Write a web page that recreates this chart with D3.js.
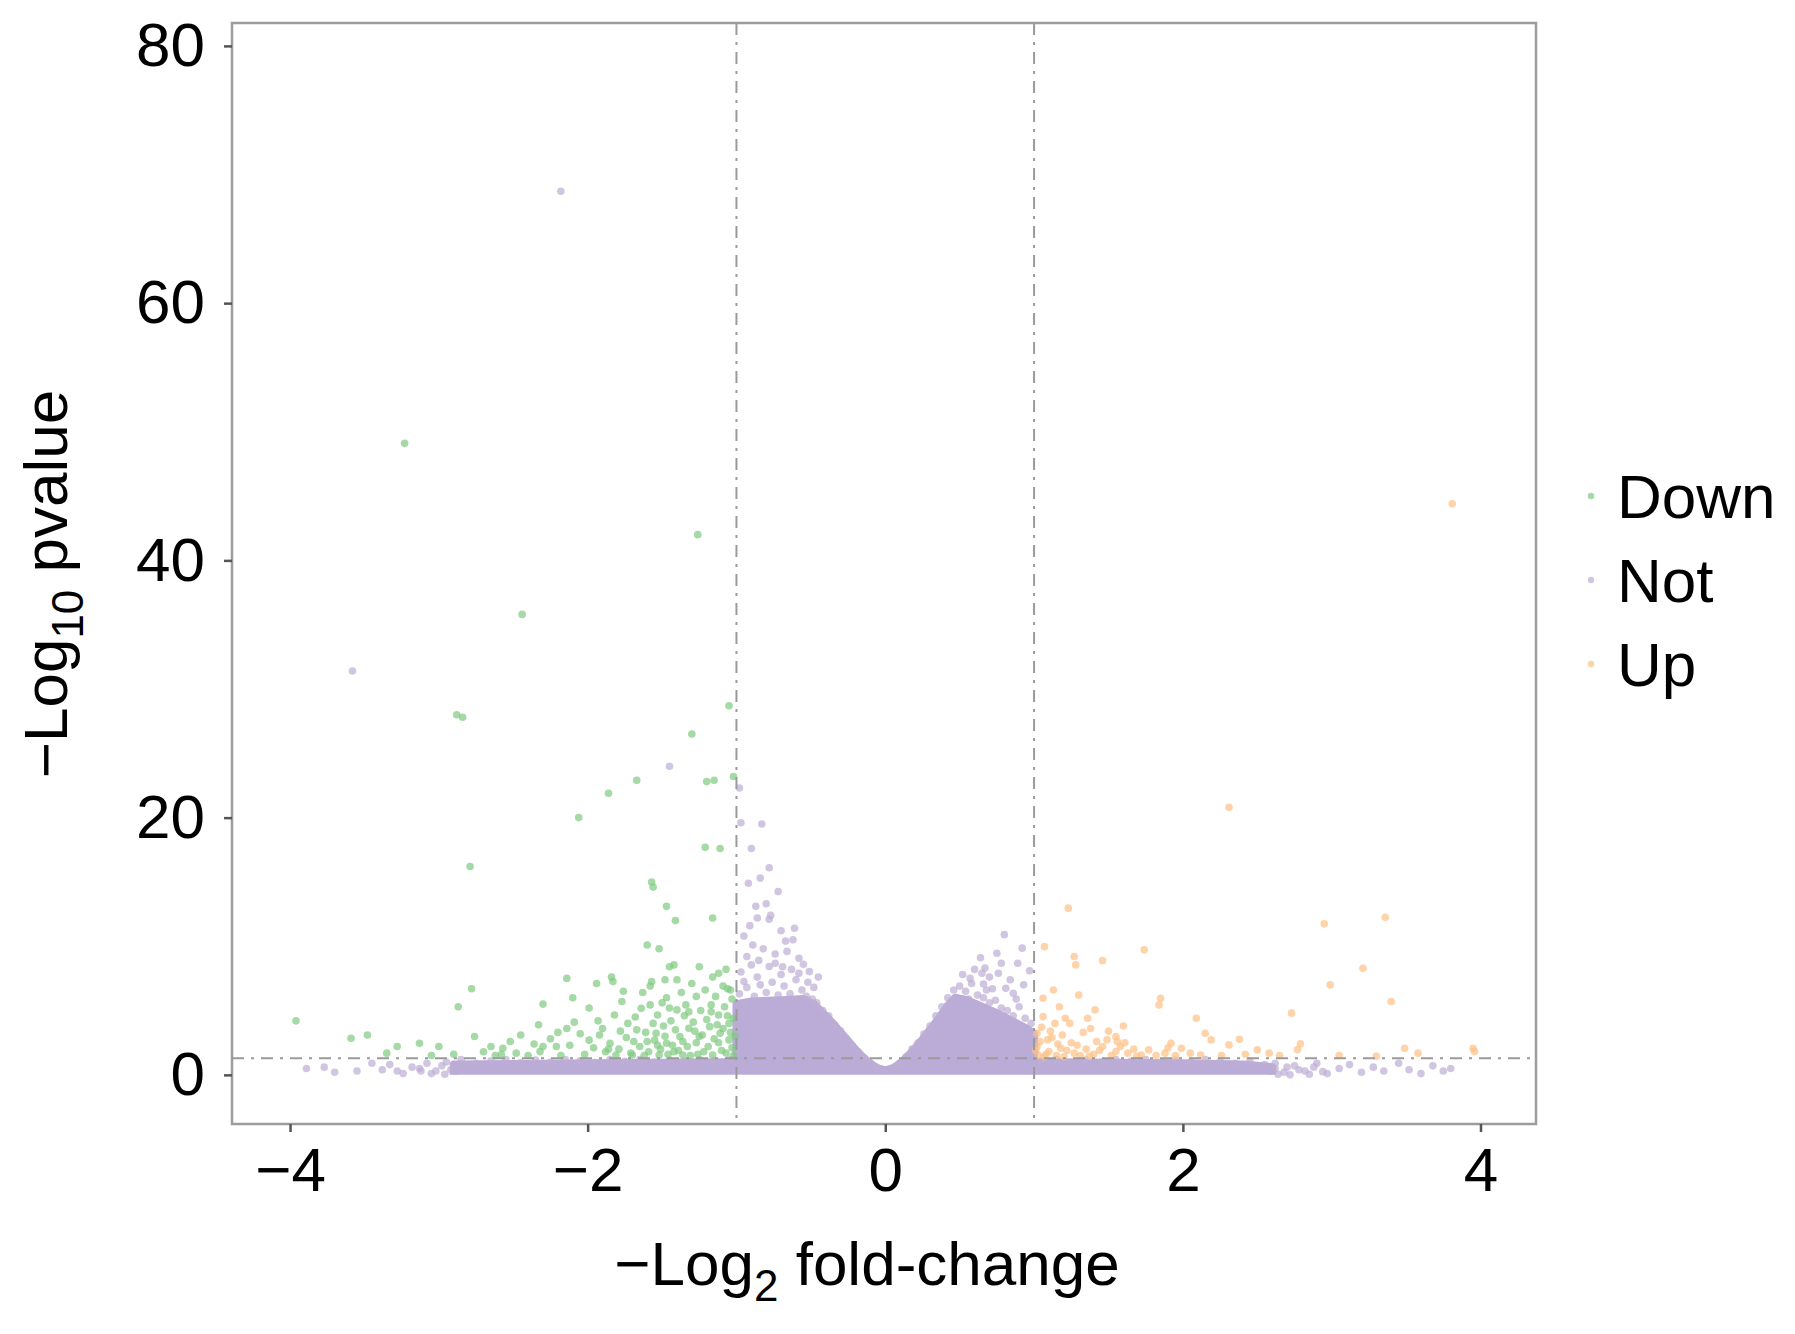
<!DOCTYPE html>
<html>
<head>
<meta charset="utf-8">
<script src="https://cdn.jsdelivr.net/npm/d3@7"></script>
<style>
  body { margin: 0; background: #fff; }
  svg { font-family: "Liberation Sans", Arial, sans-serif; }
</style>
</head>
<body>
<div id="chart"></div>
<script>
// ---- data ----
const groups = ["Down", "Not", "Up"]
const groupColors = ["#7FC97F", "#BEAED4", "#FDC086"]
const xTicks = [-4, -2, 0, 2, 4]
const yTicks = [0, 20, 40, 60, 80]
const fcCut = [-1, 1]
const pCut = 1.3

// down regulated (green)
const downPts = [
  [-3.23,49.1],[-1.26,42.0],[-2.44,35.8],[-2.88,28.0],[-2.84,27.8],[-1.05,28.7],[-1.30,26.5],[-1.67,22.9],
  [-1.20,22.8],[-1.15,22.9],[-1.02,23.2],[-1.86,21.9],[-2.06,20.0],[-1.21,17.7],[-1.11,17.6],[-2.79,16.2],
  [-1.57,15.0],[-1.56,14.6],[-1.47,13.1],[-1.41,12.0],[-1.16,12.2],[-1.60,10.1],[-1.52,9.8],[-2.78,6.7],
  [-2.87,5.3],[-3.59,2.85],[-3.48,3.1],[-3.96,4.2],
  [-2.14,7.5],[-1.94,7.1],[-1.84,7.6],[-1.83,7.25],[-2.10,6.0],[-2.30,5.5],[-2.33,3.9],[-1.99,5.2],
  [-1.77,5.7],[-1.57,7.25],[-1.48,7.4],[-1.40,7.4],[-1.45,8.4],[-1.42,8.55],[-1.25,8.4],[-1.16,7.6],
  [-1.07,8.2],[-1.09,6.9],[-1.06,6.7],[-1.30,7.1],[-1.21,6.6],[-1.47,6.0],[-1.34,5.44],[-1.58,5.44],
  [-1.64,5.18],[-1.53,4.66],[-1.40,5.05],[-1.17,5.44],[-1.12,4.66],[-1.82,4.66],[-1.73,4.0],[-1.67,3.5],
  [-2.14,3.6],[-2.09,4.1],[-1.99,2.7],[-1.92,3.1],[-1.85,2.46],[-1.60,2.59],[-1.54,3.24],[-1.47,2.46],
  [-1.38,2.98],[-1.32,3.63],[-1.25,2.98],[-1.18,3.75],[-1.11,3.24],[-1.05,4.0],[-1.05,2.72],[-1.16,1.55],
  [-1.36,1.55],[-1.52,1.55],[-1.70,1.55],[-1.81,1.55],[-2.76,2.98],[-2.65,2.2],[-2.57,2.07],[-2.48,1.69],
  [-2.32,1.81],[-2.21,2.2],[-2.30,2.2],[-3.28,2.2],[-3.13,2.46],[-3.00,2.2],[-3.35,1.69],
  [-1.02,1.5],[-1.03,2.1],[-1.04,3.3],[-1.06,4.6],[-1.08,5.3],[-1.03,5.9],[-1.10,1.9],[-1.12,2.5],
  [-1.13,3.9],[-1.14,6.1],[-1.19,2.2],[-1.20,4.3],[-1.22,1.8],[-1.24,5.0],[-1.27,2.5],[-1.28,3.4],
  [-1.29,4.1],[-1.31,1.5],[-1.33,2.2],[-1.35,4.6],[-1.37,6.4],[-1.39,1.9],[-1.41,3.5],[-1.43,2.3],
  [-1.44,4.2],[-1.46,1.6],[-1.49,3.8],[-1.50,5.6],[-1.51,2.0],[-1.55,2.7],[-1.56,4.0],[-1.59,1.8],
  [-1.61,3.3],[-1.63,6.4],[-1.65,2.2],[-1.68,4.5],[-1.71,1.7],[-1.74,2.9],[-1.76,6.5],[-1.79,2.0],
  [-1.88,1.8],[-1.90,3.6],[-1.96,2.1],[-2.02,1.6],[-2.05,3.2],[-2.18,1.5],[-2.25,2.8],[-2.40,1.5],
  [-2.52,2.6],[-2.62,1.5],[-2.70,1.8],[-2.90,1.6],[-3.05,1.5],[-1.27,6.1],[-1.45,5.2],[-1.58,6.9],
  [-1.12,7.9],
  [-1.01,3.0],[-1.02,4.4],[-1.04,6.6],[-1.07,1.7],[-1.09,3.6],[-1.15,2.8],[-1.17,4.9],[-1.23,3.1],
  [-1.26,1.6],[-1.32,4.9],[-1.36,2.6],[-1.42,1.8],[-1.48,3.0],[-1.53,2.3],[-1.62,1.5],[-1.69,2.6],
  [-1.78,3.4],[-1.86,2.0],[-1.93,4.2],[-2.12,2.3],[-2.20,3.3],[-2.36,2.4],[-2.45,3.1],[-2.58,1.6]
]

// up regulated (orange)
const upPts = [
  [3.81,44.4],[2.31,20.8],[1.23,12.96],[3.36,12.26],[2.95,11.74],[1.07,9.97],[1.74,9.72],[1.27,9.2],
  [1.28,8.55],[1.46,8.88],[3.21,8.29],[2.99,7.0],[3.40,5.7],[1.13,6.6],[1.06,5.96],[1.30,6.2],
  [1.85,5.96],[1.84,5.44],[1.41,5.05],[1.17,5.3],[1.06,4.53],[1.21,4.4],[1.24,4.0],[1.14,4.0],
  [2.09,4.4],[2.73,4.8],[1.60,3.8],[1.38,3.6],[2.15,3.24],[2.19,2.72],[1.55,2.98],[1.49,2.72],
  [1.56,2.59],[1.46,2.2],[2.38,2.77],[2.31,2.33],[2.79,2.41],[1.92,2.46],[1.99,2.07],[2.05,1.69],
  [2.50,1.94],[2.58,1.69],[3.49,2.07],[3.58,1.69],[3.95,2.07],[3.96,1.81],[1.02,2.2],[1.10,1.81],
  [1.18,2.07],[1.27,1.69],[1.09,2.72],[1.02,3.24],[1.63,1.69],[1.77,1.94],[1.88,1.69],[1.55,1.81],
  [1.72,1.55],[2.77,1.96],
  [1.03,1.5],[1.05,3.7],[1.08,1.6],[1.12,2.9],[1.15,1.5],[1.19,3.1],[1.22,1.9],[1.25,2.5],
  [1.31,1.5],[1.33,3.3],[1.35,2.0],[1.40,1.6],[1.42,2.6],[1.52,1.5],[1.58,2.2],[1.67,2.0],
  [1.82,1.5],[1.95,1.5],[2.12,1.55],[2.26,1.5],[2.42,1.6],[2.65,1.5],[3.05,1.5],[3.30,1.45],
  [1.36,4.4],[1.50,3.4],
  [1.01,1.9],[1.04,2.6],[1.07,1.4],[1.11,3.4],[1.16,2.4],[1.20,1.4],[1.29,2.3],[1.37,1.45],
  [1.44,1.9],[1.61,2.5],[1.69,1.45],[1.90,2.1]
]

// not significant, scattered ones (purple)
const notPts = [
  [-2.18,68.7],[-3.58,31.4],[-1.45,24.0],[-0.98,22.3],[-0.83,19.5],[-0.97,19.6],[-0.90,17.6],[-0.78,16.1],
  [-0.72,14.25],[-0.87,13.1],[-0.80,13.3],[-0.77,12.4],[-0.78,12.1],[-0.61,11.4],[-0.67,10.4],[-0.62,10.5],
  [-0.58,9.07],[-0.51,8.03],[-0.74,8.68],[-0.78,8.42],[-0.90,8.55],[-0.95,7.25],[0.80,10.9],[0.92,9.85],
  [0.75,9.46],[0.78,8.68],[0.89,8.68],[0.67,8.3],[0.65,7.9],[0.66,7.07],[0.81,6.74],[0.86,6.35],
  [-0.98,6.3],[-0.93,6.8],[-0.88,6.1],[-0.84,7.0],[-0.80,6.4],[-0.76,7.2],[-0.72,6.2],[-0.68,6.9],
  [-0.64,6.3],[-0.60,7.4],[-0.56,6.6],[-0.53,6.1],[-0.49,5.9],[-0.86,7.6],[-0.70,7.8],[-0.95,5.6],[-0.62,5.8],
  [-0.97,8.0],[-0.93,9.2],[-0.89,10.1],[-0.85,8.9],[-0.82,9.8],[-0.74,9.4],[-0.69,8.4],[-0.66,9.6],
  [-0.63,8.2],[-0.58,7.9],[-0.55,8.6],[-0.52,7.2],[-0.48,6.8],[-0.45,7.6],[-0.95,10.8],[-0.91,11.6],
  [-0.86,12.2],[-0.70,11.2],[-0.92,14.9],[-0.84,15.3],
  [-0.46,5.6],[-0.42,5.0],[-0.38,4.6],[-0.34,3.9],[-0.30,3.4],[-0.26,2.8],[-0.22,2.2],[-0.18,1.8],
  [-0.14,1.3],[-0.10,0.9],[-0.06,0.6],[0.06,0.6],[0.10,0.9],[0.14,1.4],[0.18,2.0],[0.22,2.5],
  [0.26,3.2],[0.30,3.8],[0.34,4.6],[0.38,5.3],[0.42,6.0],[0.46,6.6],
  [0.50,6.9],[0.54,6.5],[0.58,7.1],[0.62,6.2],[0.66,6.0],[0.70,5.6],[0.74,5.8],[0.78,5.2],
  [0.82,5.0],[0.86,4.6],[0.90,5.3],[0.94,4.4],[0.98,4.0],[0.56,5.9],[0.72,6.7],[0.88,5.9],
  [0.52,7.8],[0.60,8.2],[0.64,9.1],[0.70,7.6],[0.76,7.9],[0.84,7.4],[0.93,7.0],[0.97,8.1],
  [0.57,7.5],[0.68,6.6],
  [-2.95,1.0],[-2.85,1.2],[-2.75,0.9],[-2.65,1.1],[-2.55,1.2],[-2.45,0.95],[-2.35,1.15],[-2.25,1.0],
  [-2.15,1.2],[-2.05,1.1],[-1.95,0.95],[-1.85,1.2],[-1.75,1.05],[-1.65,1.2],[-1.55,1.0],[-1.45,1.15],
  [-1.35,1.05],[-1.25,1.2],[-1.15,1.1],[-1.05,1.2],
  [-3.89,0.5],[-3.77,0.6],[-3.70,0.2],[-3.55,0.3],[-3.45,0.9],[-3.38,0.4],[-3.24,0.1],[-3.13,0.5],
  [-3.08,0.9],[-3.02,0.3],[-2.98,0.7],[-2.92,0.4],[-2.96,0.05],[-3.05,0.1],[-3.12,0.3],[-3.18,0.6],
  [-3.28,0.3],[-3.33,0.8],
  [1.05,1.1],[1.15,1.2],[1.25,0.95],[1.35,1.15],[1.45,1.0],[1.55,1.2],[1.65,1.05],[1.75,1.2],
  [1.85,0.95],[1.95,1.15],[2.05,1.0],[2.15,1.2],[2.25,1.05],[2.35,0.9],[2.45,1.1],[2.55,0.8],
  [2.62,0.5],[2.68,0.2],[2.75,0.7],[2.82,0.3],[2.90,0.9],[2.97,0.1],[3.05,0.5],[3.12,0.8],
  [3.20,0.2],[3.28,0.6],[3.35,0.3],[3.45,0.9],[3.52,0.4],[3.60,0.1],[3.68,0.7],[3.75,0.3],[3.80,0.5],
  [2.62,0.9],[2.64,0.05],[2.70,0.6],[2.72,0.0],[2.78,0.4],[2.85,0.05],[2.88,0.6],[2.94,0.25]
]

// outline of the packed mass of not-significant genes
const notCore = [
  [-2.9,0.0],[-2.9,0.8],[-2.5,0.85],[-2.0,0.9],[-1.5,0.95],[-1.0,1.0],[-1.0,5.5],[-0.9,5.7],
  [-0.7,5.8],[-0.55,5.9],[-0.48,5.5],[-0.42,4.8],[-0.36,4.1],[-0.30,3.3],[-0.24,2.5],[-0.18,1.7],
  [-0.12,1.05],[-0.06,0.55],[0.0,0.35],[0.06,0.55],[0.12,1.1],[0.18,1.8],[0.24,2.6],[0.30,3.5],
  [0.36,4.4],[0.42,5.4],[0.47,6.0],[0.55,5.8],[0.65,5.3],[0.75,4.8],[0.85,4.2],[0.95,3.6],
  [1.0,3.2],[1.0,1.0],[1.5,0.95],[2.0,0.9],[2.4,0.8],[2.6,0.6],[2.6,0.0]
]

// ---- layout ----
var margin = {left: 232, top: 23},
    width = 1304,
    height = 1101

const color = d3.scaleOrdinal().domain(groups).range(groupColors)

const svg = d3.select("#chart").append("svg")
  .attr("width", 1795)
  .attr("height", 1334)

const g = svg.append("g").attr("transform", `translate(${margin.left},${margin.top})`)

const xs = d3.scaleLinear().domain([-4.39, 4.373]).range([0, width])
const ys = d3.scaleLinear().domain([-3.82, 81.78]).range([height, 0])

// clip to panel
svg.append("clipPath").attr("id", "clip")
  .append("rect").attr("width", width).attr("height", height)
const plot = g.append("g").attr("clip-path", "url(#clip)")

// dense mass
plot.append("path")
  .datum(notCore)
  .attr("d", d3.line().x(d => xs(d[0])).y(d => ys(d[1])))
  .attr("fill", "#BBACD7")
  .attr("stroke", "#BBACD7")
  .attr("stroke-width", 8)
  .attr("stroke-linejoin", "round")

// points
const pts = [
  ...notPts.map(d => ({x: d[0], y: d[1], grp: "Not"})),
  ...downPts.map(d => ({x: d[0], y: d[1], grp: "Down"})),
  ...upPts.map(d => ({x: d[0], y: d[1], grp: "Up"}))
]
plot.selectAll(".pt").data(pts).join("circle")
  .attr("class", "pt")
  .attr("cx", d => xs(d.x))
  .attr("cy", d => ys(d.y))
  .attr("r", 3.8)
  .attr("fill", d => color(d.grp))
  .attr("fill-opacity", 0.7)

// threshold lines
plot.selectAll(".vcut").data(fcCut).join("line")
  .attr("class", "vcut")
  .attr("x1", d => xs(d)).attr("x2", d => xs(d))
  .attr("y1", 0).attr("y2", height)
  .attr("stroke", "#9a9a9a").attr("stroke-width", 2)
  .attr("stroke-dasharray", "12,7,3,7")
plot.append("line")
  .attr("x1", 0).attr("x2", width)
  .attr("y1", ys(pCut)).attr("y2", ys(pCut))
  .attr("stroke", "#9a9a9a").attr("stroke-width", 2)
  .attr("stroke-dasharray", "12,7,3,7")

// panel border
g.append("rect")
  .attr("width", width).attr("height", height)
  .attr("fill", "none").attr("stroke", "#9c9c9c").attr("stroke-width", 2.5)

// axes
const xAxis = g.append("g").attr("transform", `translate(0,${height})`)
  .call(d3.axisBottom(xs).tickValues(xTicks).tickSize(8).tickPadding(15))
const yAxis = g.append("g")
  .call(d3.axisLeft(ys).tickValues(yTicks).tickSize(8).tickPadding(19))
;[xAxis, yAxis].forEach(a => {
  a.select(".domain").remove()
  a.selectAll("line").attr("stroke", "#555").attr("stroke-width", 2.5)
  a.selectAll("text").attr("font-size", 62).attr("fill", "#000")
    .attr("font-family", "Liberation Sans, Arial, sans-serif")
})

// axis titles
const xt = svg.append("text")
  .attr("x", 867).attr("y", 1285)
  .attr("text-anchor", "middle")
  .attr("font-size", 62)
xt.append("tspan").text("\u2212Log")
xt.append("tspan").attr("font-size", 44).attr("dy", 16).text("2")
xt.append("tspan").attr("dy", -16).text(" fold-change")

const yt = svg.append("text")
  .attr("transform", "translate(67,584) rotate(-90)")
  .attr("text-anchor", "middle")
  .attr("font-size", 62)
yt.append("tspan").text("\u2212Log")
yt.append("tspan").attr("font-size", 44).attr("dy", 16).text("10")
yt.append("tspan").attr("dy", -16).text(" pvalue")

// legend
const legend = svg.append("g").attr("transform", "translate(1591,496)")
legend.selectAll(".key").data(groups).join("circle")
  .attr("class", "key")
  .attr("cx", 0)
  .attr("cy", (d, i) => i * 84)
  .attr("r", 3.2)
  .attr("fill", d => color(d))
  .attr("fill-opacity", 0.7)
legend.selectAll(".lab").data(groups).join("text")
  .attr("class", "lab")
  .attr("x", 26)
  .attr("y", (d, i) => i * 84 + 22)
  .attr("font-size", 62)
  .text(d => d)
</script>
</body>
</html>
